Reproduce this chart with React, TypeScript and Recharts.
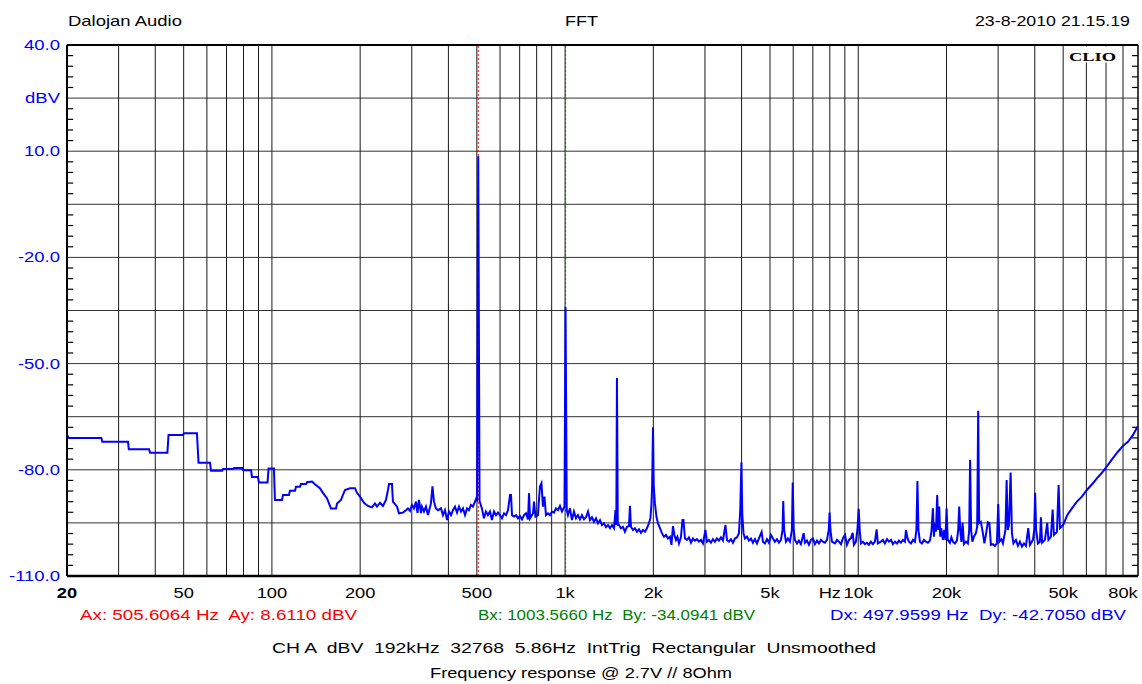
import { LineChart, Line, XAxis, YAxis, CartesianGrid, ReferenceLine } from 'recharts'

const FONT = '"Liberation Sans", Arial, sans-serif'

// axis ticks, CLIO puts the unit in the 8k slot
const freqTicks = [20, 50, 100, 200, 500, 1000, 2000, 5000, 8000, 10000, 20000, 50000, 80000]
const freqTickLabels = ['20', '50', '100', '200', '500', '1k', '2k', '5k', 'Hz', '10k', '20k', '50k', '80k']
const gridFreqs = [
  30, 40, 50, 60, 70, 80, 90, 100, 200, 300, 400, 500, 600, 700, 800, 900, 1000,
  2000, 3000, 4000, 5000, 6000, 7000, 8000, 9000, 10000, 20000, 30000, 40000, 50000,
  60000, 70000, 80000,
]
const levelTicks = [-110, -95, -80, -65, -50, -35, -20, -5, 10, 25, 40]
const levelTickLabels = ['-110.0', '', '-80.0', '', '-50.0', '', '-20.0', '', '10.0', 'dBV', '40.0']
const minorTicks = Array.from({ length: 51 }, (_, i) => -110 + i * 3).filter((v) => (v + 110) % 15 !== 0)

const cursorAHz = 505.6064
const cursorBHz = 1003.566

// [Hz, dBV]
const lowBand: [number, number][] = [
  [20, -70.2], [20.3, -71.0], [26.2, -71.0], [26.4, -72.1], [32.3, -72.1], [32.5, -74.2],
  [38.1, -74.2], [38.4, -75.2], [44.0, -75.2], [44.4, -70.2], [49.7, -70.2], [50.1, -69.7],
  [55.5, -69.7], [56.2, -78.0], [61.5, -78.0], [62.0, -80.3], [67.6, -80.3], [68.1, -79.8],
  [73.7, -79.8], [74.3, -79.5], [79.1, -79.5], [79.7, -80.1], [84.9, -80.1], [85.5, -82.0],
  [89.6, -82.0], [90.3, -83.6], [96.6, -83.6], [97.4, -79.6], [101.6, -79.6],
]

const bassBand: [number, number][] = [
  [102.4, -88.5], [108.2, -88.5], [109.1, -87.1], [114.3, -87.1], [115.2, -85.9], [119.9, -85.9],
  [120.8, -84.8], [124.7, -84.8], [125.6, -84.0], [130.7, -84.0], [131.7, -83.5], [137.0, -83.3],
  [140.2, -84.1], [145.8, -85.2], [149.3, -86.5], [154.2, -88.1], [159.0, -90.9], [165.4, -90.9],
  [166.8, -89.5], [172.0, -88.5], [177.5, -85.7], [184.6, -85.2], [192.0, -85.2], [195.1, -86.5],
  [199.7, -87.6], [206.1, -89.3], [212.6, -90.2], [219.4, -90.6], [224.6, -89.5], [228.3, -90.4],
  [233.7, -89.3], [239.2, -90.2], [244.9, -88.5], [248.8, -85.7], [250.8, -84.0], [256.7, -84.0],
  [258.7, -89.0], [267.2, -90.4], [271.2, -92.3], [279.9, -92.1], [286.6, -91.4], [291.1, -90.9],
  [295.7, -91.6], [300.4, -89.9], [305.2, -90.9], [310.0, -89.0], [313.7, -92.2], [317.4, -88.5],
  [322.4, -92.2], [324.9, -90.4], [330.1, -91.8], [335.3, -90.4], [340.6, -92.8], [348.7, -89.5],
  [352.9, -84.7], [357.1, -89.0],
]

const fundamentalBand: [number, number][] = [
  [362.7, -90.9], [368.5, -91.4], [377.3, -90.9], [383.2, -92.8], [389.3, -91.4], [395.7, -94.2],
  [401.8, -91.8], [408.2, -92.8], [414.6, -91.4], [421.2, -90.4], [428.0, -92.1], [434.7, -90.4],
  [441.6, -91.8], [448.6, -90.9], [455.7, -92.8], [463.0, -90.9], [469.9, -91.4], [477.4, -89.9],
  [484.9, -90.4], [492.6, -89.0], [498.4, -88.0], [500.8, -88.3], [505.6, 8.6], [510.8, -88.8],
  [520.3, -90.9], [528.6, -93.7], [537.0, -91.8], [545.5, -92.8], [554.2, -91.8], [563.0, -94.2],
  [572.0, -91.8], [581.1, -92.8], [590.3, -92.1], [599.7, -92.8], [609.2, -93.7], [618.9, -92.3],
  [628.8, -92.8], [638.8, -91.4], [648.9, -87.1], [654.0, -87.1], [659.1, -92.8], [669.6, -93.2],
  [680.3, -92.8], [690.9, -93.7], [702.0, -93.1], [712.9, -94.0], [724.3, -92.8], [735.8, -92.3],
  [747.5, -94.0], [753.4, -86.6], [759.4, -93.7], [777.3, -92.3], [783.4, -89.0], [792.5, -93.2],
  [808.0, -92.8], [820.8, -84.7], [830.6, -83.8], [840.4, -90.4], [850.4, -87.6], [860.6, -92.8],
  [874.2, -92.3], [888.0, -92.8], [902.1, -91.8], [916.4, -92.1], [930.9, -90.9], [945.6, -91.4],
  [960.6, -90.2], [975.8, -91.8], [995.3, -90.4],
]

const harmonicBand: [number, number][] = [
  [1003.6, -34.1], [1013.2, -91.4], [1022.8, -92.8], [1039.0, -90.9], [1055.5, -94.2], [1072.2, -91.8],
  [1089.2, -93.7], [1106.4, -92.8], [1124.0, -94.0], [1141.8, -92.8], [1159.9, -94.0], [1178.3, -93.4],
  [1197.0, -91.8], [1216.0, -94.2], [1235.2, -93.4], [1254.8, -94.7], [1274.7, -93.7], [1294.9, -95.1],
  [1315.5, -94.2], [1336.3, -95.6], [1357.5, -95.1], [1379.1, -96.2], [1400.9, -95.6], [1423.1, -96.5],
  [1445.7, -95.6], [1468.6, -96.5], [1485.9, -91.4], [1495.2, -95.6], [1503, -54.1], [1512.9, -95.6],
  [1526.5, -95.6], [1550.7, -96.5], [1575.3, -96.1], [1600.3, -97.5], [1625.7, -96.1], [1651.5, -95.9],
  [1664.5, -90.2], [1677.6, -96.1], [1704.2, -97.0], [1731.2, -96.5], [1758.6, -97.5], [1786.5, -96.8],
  [1814.8, -97.8], [1843.6, -97.0], [1872.8, -97.5], [1902, -96.5], [1932, -95.1], [1955, -93.6],
  [1970, -89.9], [1981, -84.9], [1995, -68.0], [2006, -84.3], [2025, -89.5], [2049, -93.2],
  [2074, -95.1], [2107, -96.5], [2140, -97.9], [2174, -98.9], [2208, -98.4], [2243, -99.4],
  [2279, -98.9], [2306, -101.2], [2333, -95.9], [2361, -98.4], [2389, -99.8], [2417, -98.9],
  [2446, -100.8], [2484, -99.1], [2514, -94.2], [2534, -94.2], [2564, -99.4], [2604, -99.8],
  [2646, -99.1], [2688, -100.6], [2730, -99.4], [2773, -100.0], [2817, -99.6], [2861, -100.3],
  [2907, -99.8], [2953, -100.8], [3011, -97.0], [3047, -100.3], [3095, -99.8], [3144, -100.6],
  [3194, -99.6], [3244, -100.3], [3296, -99.4], [3348, -100.0], [3401, -99.1], [3455, -100.0],
  [3524, -95.6], [3566, -99.8], [3622, -100.3], [3680, -99.6], [3738, -100.6], [3797, -99.4],
  [3857, -99.1], [3918, -97.9], [3958, -91.4], [3995, -77.9], [4021, -92.3], [4059, -97.9],
  [4107, -99.4], [4172, -98.9], [4239, -100.0], [4306, -99.4], [4374, -100.6], [4443, -99.6],
]

const trebleBand: [number, number][] = [
  [4513, -100.8], [4584, -99.4], [4682, -97.6], [4730, -100.3], [4805, -100.8], [4882, -99.6],
  [4959, -100.6], [5037, -98.4], [5117, -99.4], [5198, -100.3], [5281, -99.6], [5364, -100.6],
  [5449, -99.8], [5518, -97.0], [5548, -88.8], [5587, -97.0], [5666, -100.3], [5756, -99.4],
  [5847, -100.3], [5940, -97.0], [5977, -83.6], [6024, -97.0], [6081, -99.8], [6180, -100.8],
  [6275, -100.0], [6374, -101.0], [6512, -97.9], [6580, -100.6], [6685, -100.0], [6790, -101.2],
  [6897, -99.8], [7007, -99.4], [7118, -101.0], [7231, -100.0], [7344, -100.8], [7460, -99.8],
  [7578, -100.3], [7698, -100.6], [7822, -99.8], [7932, -97.0], [7982, -92.1], [8038, -97.0],
  [8134, -100.3], [8329, -100.8], [8462, -99.8], [8595, -100.3], [8731, -101.0], [8869, -99.3],
  [9010, -98.4], [9153, -101.2], [9297, -99.8], [9444, -99.3], [9570, -97.8], [9666, -101.2],
  [9818, -100.3], [9934, -97.0], [10036, -91.0], [10116, -97.0], [10211, -100.8], [10372, -100.3],
  [10537, -101.0], [10710, -100.6], [10873, -101.2], [11045, -100.3], [11220, -101.0], [11398, -100.3],
  [11552, -96.8], [11666, -100.8], [11945, -100.3], [12134, -99.8], [12329, -100.8], [12532, -99.6],
  [12724, -100.3], [12926, -99.8], [13131, -101.0], [13339, -100.3], [13556, -100.8], [13766, -100.0],
  [13984, -100.6], [14206, -99.8], [14431, -100.3], [14545, -97.0], [14718, -99.3], [14893, -100.3],
  [15129, -100.8], [15368, -99.8], [15612, -100.3], [15792, -97.0], [15917, -83.2], [16043, -97.0],
]

const ultraBand: [number, number][] = [
  [16233, -100.3], [16490, -100.8], [16750, -99.8], [17015, -100.3], [17285, -100.6], [17559, -100.0],
  [17767, -97.5], [17976, -90.9], [18118, -98.9], [18262, -95.1], [18406, -97.5], [18593, -87.1],
  [18740, -97.0], [18887, -90.4], [19036, -98.9], [19186, -96.5], [19444, -99.8], [19643, -97.0],
  [19829, -99.8], [20016, -90.9], [20190, -99.8], [20541, -100.6], [20784, -99.1], [21030, -100.3],
  [21362, -100.8], [21702, -100.0], [21926, -97.0], [22099, -90.4], [22274, -97.0], [22484, -100.4],
  [22697, -95.0], [22930, -101.0], [23292, -100.3], [23662, -100.8], [23904, -97.0], [24074, -77.2],
  [24263, -97.0], [24512, -100.3], [24802, -98.9], [25196, -97.9], [25448, -96.1], [25650, -63.3],
  [25852, -95.1], [26199, -94.7], [26616, -97.9], [26932, -100.8], [27250, -98.4], [27678, -94.8],
  [28012, -95.0], [28344, -101.2], [28794, -101.0], [29250, -101.5], [29715, -100.8], [30025, -89.7],
  [30310, -100.3], [30790, -99.6], [31155, -100.8], [31773, -97.0], [32074, -82.9], [32352, -97.0],
  [32658, -95.6], [33097, -80.8], [33437, -97.9], [33833, -100.8], [34504, -99.8], [35052, -101.5],
  [35606, -100.3], [36174, -101.7], [36748, -100.8], [37332, -101.5], [38002, -96.5], [38512, -101.2],
  [39430, -99.8], [39834, -97.0], [40117, -86.5], [40434, -97.0], [41009, -100.8], [41657, -100.3],
  [41987, -93.4], [42386, -100.6], [43328, -99.8], [44118, -95.0], [44535, -99.8],
]

const rolloffBand: [number, number][] = [
  [45419, -98.9], [46030, -91.2], [46502, -98.4], [47610, -97.5], [48248, -84.3], [48743, -96.5],
  [50022, -95.6], [51378, -93.2], [52108, -92.3], [53561, -90.9], [55700, -89.0], [57924, -87.6],
  [60248, -85.7], [63158, -83.8], [65687, -82.1], [68316, -80.5], [71052, -78.6], [73898, -76.7],
  [76860, -74.9], [79938, -73.3], [83142, -72.1], [86470, -70.2], [89586, -67.8],
]

const spectrum = [...lowBand, ...bassBand, ...fundamentalBand, ...harmonicBand, ...trebleBand, ...ultraBand, ...rolloffBand]
  .map(([f, db]) => ({ f, db }))

function FreqTick({ x, y, payload }: any) {
  const label = freqTickLabels[freqTicks.indexOf(payload.value)]
  return (
    <text
      transform={`translate(${x},${y + 22}) scale(1.22,1)`}
      textAnchor="middle"
      fontSize={15}
      fontFamily={FONT}
      fontWeight={label === '20' ? 700 : 400}
      fill="#000"
    >
      {label}
    </text>
  )
}

function LevelTick({ x, y, payload }: any) {
  const label = levelTickLabels[levelTicks.indexOf(payload.value)]
  if (!label) return null
  return (
    <text transform={`translate(${x - 7},${y + 5}) scale(1.32,1)`} textAnchor="end" fontSize={14} fontFamily={FONT} fill="#0000ff">
      {label}
    </text>
  )
}

export default function App() {
  const txt = { fontFamily: FONT, fontSize: 15, style: { whiteSpace: 'pre' as const }, lengthAdjust: 'spacingAndGlyphs' as const }
  return (
    <div style={{ position: 'absolute', left: 0, top: 0, width: 1142, height: 684, background: '#fff' }}>
      <LineChart width={1142} height={684} data={spectrum} margin={{ top: 45, right: 4, bottom: 78, left: 7 }}>
        <CartesianGrid vertical={false} stroke="#333" strokeWidth={1} />
        {gridFreqs.map((g) => (
          <ReferenceLine key={g} x={g} stroke="#1a1a1a" strokeWidth={1} />
        ))}
        {/* short inward ticks every 3 dB on both frame edges */}
        {minorTicks.map((v) => (
          <ReferenceLine key={`l${v}`} segment={[{ x: 20, y: v }, { x: 21, y: v }]} stroke="#000" strokeWidth={1.2} />
        ))}
        {minorTicks.map((v) => (
          <ReferenceLine key={`r${v}`} segment={[{ x: 85900, y: v }, { x: 90000, y: v }]} stroke="#000" strokeWidth={1.2} />
        ))}
        <ReferenceLine x={cursorAHz} stroke="#ff0000" strokeDasharray="2 2" strokeWidth={1} />
        <ReferenceLine x={cursorBHz} stroke="#009000" strokeDasharray="2 2" strokeWidth={1.2} />
        <ReferenceLine y={40} stroke="#000" strokeWidth={2} />
        <ReferenceLine x={90000} stroke="#000" strokeWidth={1.5} />
        <XAxis
          dataKey="f"
          type="number"
          scale="log"
          domain={[20, 90000]}
          allowDataOverflow
          ticks={freqTicks}
          interval={0}
          tick={<FreqTick />}
          tickLine={false}
          tickSize={0}
          tickMargin={0}
          height={30}
          axisLine={{ stroke: '#000', strokeWidth: 2.5 }}
        />
        <YAxis
          type="number"
          domain={[-110, 40]}
          allowDataOverflow
          ticks={levelTicks}
          interval={0}
          tick={<LevelTick />}
          tickLine={false}
          tickSize={0}
          tickMargin={0}
          width={60}
          axisLine={{ stroke: '#000', strokeWidth: 2 }}
        />
        <Line dataKey="db" type="linear" dot={false} stroke="#0000ff" strokeWidth={2} isAnimationActive={false} />
      </LineChart>
      <svg width={1142} height={684} style={{ position: 'absolute', left: 0, top: 0, pointerEvents: 'none' }}>
        <text x={68} y={26} {...txt} textLength={114} fill="#000">Dalojan Audio</text>
        <text x={565} y={26} {...txt} textLength={33} fill="#000">FFT</text>
        <text x={975} y={26} {...txt} textLength={155} fill="#000">23-8-2010 21.15.19</text>
        <rect x={1065} y={46.5} width={56} height={16} fill="#fff" />
        <text x={1069} y={61} fontFamily='"Liberation Serif", "Times New Roman", serif' fontWeight={700} fontSize={13} textLength={47} lengthAdjust="spacingAndGlyphs" fill="#000">CLIO</text>
        <text x={80} y={620} {...txt} textLength={277} fill="#ff0000">{'Ax: 505.6064 Hz  Ay: 8.6110 dBV'}</text>
        <text x={478} y={620} {...txt} textLength={277} fill="#008000">{'Bx: 1003.5660 Hz  By: -34.0941 dBV'}</text>
        <text x={830} y={620} {...txt} textLength={296} fill="#0000ff">{'Dx: 497.9599 Hz  Dy: -42.7050 dBV'}</text>
        <text x={272} y={653} {...txt} textLength={604} fill="#000">{'CH A  dBV  192kHz  32768  5.86Hz  IntTrig  Rectangular  Unsmoothed'}</text>
        <text x={430} y={678} {...txt} textLength={302} fill="#000">{'Frequency response @ 2.7V // 8Ohm'}</text>
      </svg>
    </div>
  )
}
